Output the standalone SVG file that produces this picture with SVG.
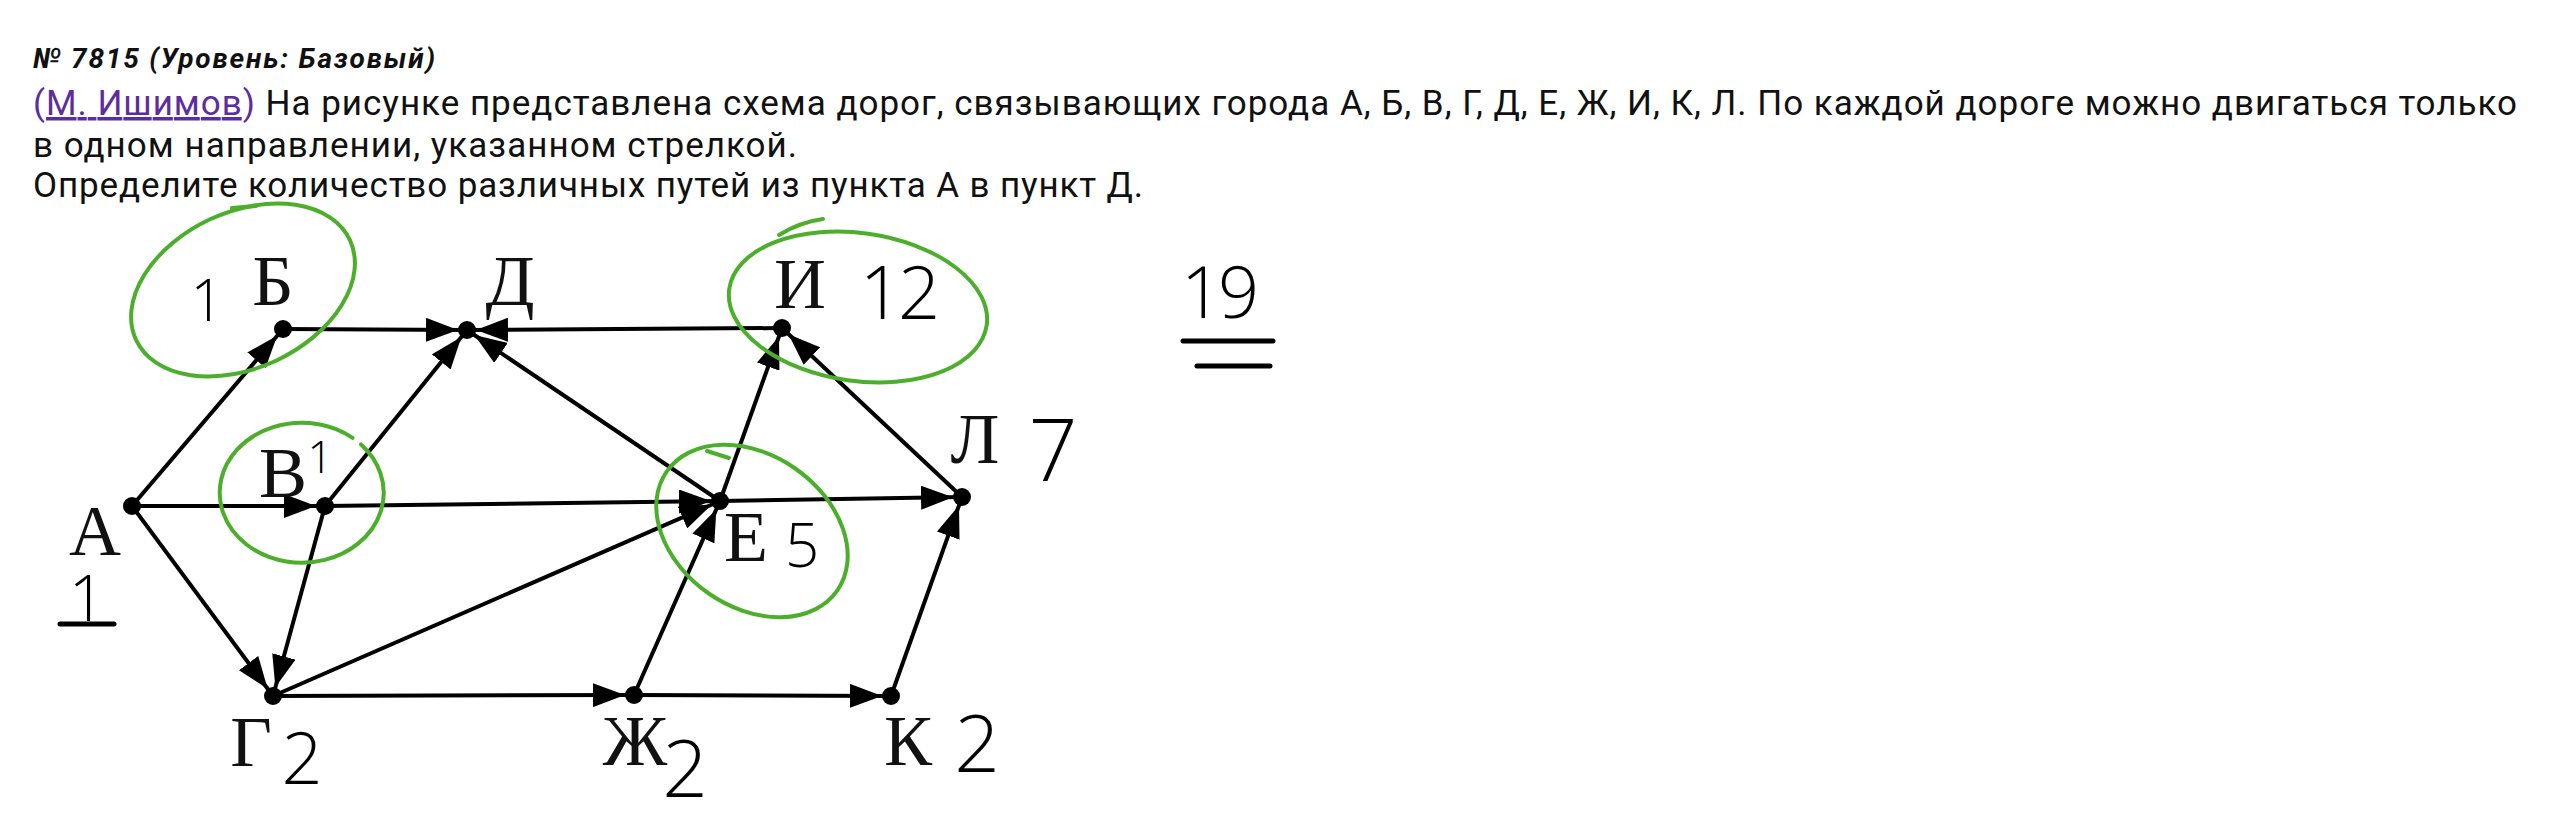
<svg xmlns="http://www.w3.org/2000/svg" width="2550" height="840" viewBox="0 0 2550 840">
<defs>
<style>
.hdr{font-family:Roboto,"Liberation Sans",sans-serif;font-size:35px;fill:#111}
.ttl{font-family:Roboto,"Liberation Sans",sans-serif;font-size:28px;font-weight:bold;font-style:italic;fill:#111}
.lnk{fill:#5b2d9e}
.lbl{font-family:"Liberation Serif","Times New Roman",serif;font-size:72px;fill:#111;text-anchor:middle}
.hw{font-family:"Open Sans","DejaVu Sans",sans-serif;font-weight:300;fill:#000;text-anchor:middle}
.edge{stroke:#000;stroke-width:4;fill:none;marker-end:url(#arr)}
.dot{fill:#000}
.grn{stroke:#4caf2c;stroke-width:4;fill:none;stroke-linecap:round}
.ink{stroke:#000;stroke-width:5;fill:none;stroke-linecap:round}
</style>
<marker id="arr" markerUnits="userSpaceOnUse" markerWidth="44" markerHeight="24" refX="41" refY="12" orient="auto">
<path d="M0,0 L32,12 L0,24 z" fill="#000"/>
</marker>
</defs>
<rect width="2550" height="840" fill="#fff"/>

<g id="header">
<text class="ttl" x="33" y="68" textLength="402">№ 7815 (Уровень: Базовый)</text>
<text class="hdr" x="33" y="115" textLength="2484"><tspan class="lnk">(</tspan><tspan class="lnk" text-decoration="underline">М. Ишимов</tspan><tspan class="lnk">)</tspan> На рисунке представлена схема дорог, связывающих города А, Б, В, Г, Д, Е, Ж, И, К, Л. По каждой дороге можно двигаться только</text>
<text class="hdr" x="33" y="157" textLength="764">в одном направлении, указанном стрелкой.</text>
<text class="hdr" x="33" y="197" textLength="1110">Определите количество различных путей из пункта А в пункт Д.</text>
</g>

<g id="connectors">
<line class="edge" x1="132" y1="506" x2="283" y2="329"/>
<line class="edge" x1="132" y1="506" x2="325" y2="506"/>
<line class="edge" x1="132" y1="506" x2="273" y2="696"/>
<line class="edge" x1="283" y1="329" x2="467" y2="330"/>
<line class="edge" x1="325" y1="506" x2="467" y2="330"/>
<line class="edge" x1="325" y1="506" x2="720" y2="501"/>
<line class="edge" x1="325" y1="506" x2="273" y2="696"/>
<line class="edge" x1="273" y1="696" x2="720" y2="501"/>
<line class="edge" x1="273" y1="696" x2="634" y2="695"/>
<line class="edge" x1="720" y1="501" x2="467" y2="330"/>
<line class="edge" x1="720" y1="501" x2="782" y2="328"/>
<line class="edge" x1="720" y1="501" x2="962" y2="497"/>
<line class="edge" x1="634" y1="695" x2="720" y2="501"/>
<line class="edge" x1="634" y1="695" x2="891" y2="696"/>
<line class="edge" x1="891" y1="696" x2="962" y2="497"/>
<line class="edge" x1="962" y1="497" x2="782" y2="328"/>
<line class="edge" x1="782" y1="328" x2="467" y2="330"/>
</g>

<g id="node-A"><circle class="dot" cx="132" cy="506" r="9"/><text class="lbl" x="95" y="555">А</text></g>
<g id="node-B"><circle class="dot" cx="283" cy="329" r="9"/><text class="lbl" x="273" y="305">Б</text></g>
<g id="node-D"><circle class="dot" cx="467" cy="330" r="9"/><text class="lbl" x="510" y="305">Д</text></g>
<g id="node-I"><circle class="dot" cx="782" cy="328" r="9"/><text class="lbl" x="800" y="308">И</text></g>
<g id="node-V"><circle class="dot" cx="325" cy="506" r="9"/><text class="lbl" x="283" y="497">В</text></g>
<g id="node-E"><circle class="dot" cx="720" cy="501" r="9"/><text class="lbl" x="746" y="561">Е</text></g>
<g id="node-L"><circle class="dot" cx="962" cy="497" r="9"/><text class="lbl" x="975" y="463">Л</text></g>
<g id="node-G"><circle class="dot" cx="273" cy="696" r="9"/><text class="lbl" x="251" y="766">Г</text></g>
<g id="node-Zh"><circle class="dot" cx="634" cy="695" r="9"/><text class="lbl" x="635" y="765">Ж</text></g>
<g id="node-K"><circle class="dot" cx="891" cy="696" r="9"/><text class="lbl" x="908" y="765">К</text></g>

<g id="annotations">
<ellipse class="grn" cx="243" cy="290" rx="118" ry="78" transform="rotate(-25 243 290)"/>
<path class="grn" d="M232,208 L256,206"/>
<path class="grn" d="M361,444.4 A82,70 0 1 1 352.5,437.8"/>
<ellipse class="grn" cx="858" cy="307" rx="130" ry="74" transform="rotate(8 858 307)"/>
<path class="grn" d="M779,235 Q800,222 823,219"/>
<ellipse class="grn" cx="752" cy="531" rx="104" ry="76" transform="rotate(35 752 531)"/>
<path class="grn" d="M707,451 L729,458"/>

<text class="hw" x="207" y="321" font-size="58">1</text>
<text class="hw" x="320" y="473" font-size="44">1</text>
<text class="hw" x="87" y="621" font-size="64">1</text>
<line class="ink" x1="60" y1="624" x2="114" y2="624"/>
<text class="hw" x="302" y="784" font-size="72">2</text>
<text class="hw" x="685" y="797" font-size="80">2</text>
<text class="hw" x="977" y="772" font-size="80">2</text>
<text class="hw" x="898" y="319" font-size="74" letter-spacing="-4">12</text>
<text class="hw" x="1053" y="481" font-size="86">7</text>
<text class="hw" x="802" y="567" font-size="60">5</text>
<text class="hw" x="1218" y="318" font-size="72" letter-spacing="-4">19</text>
<line class="ink" x1="1183" y1="341" x2="1273" y2="341"/>
<line class="ink" x1="1197" y1="366" x2="1270" y2="366"/>
</g>
</svg>
